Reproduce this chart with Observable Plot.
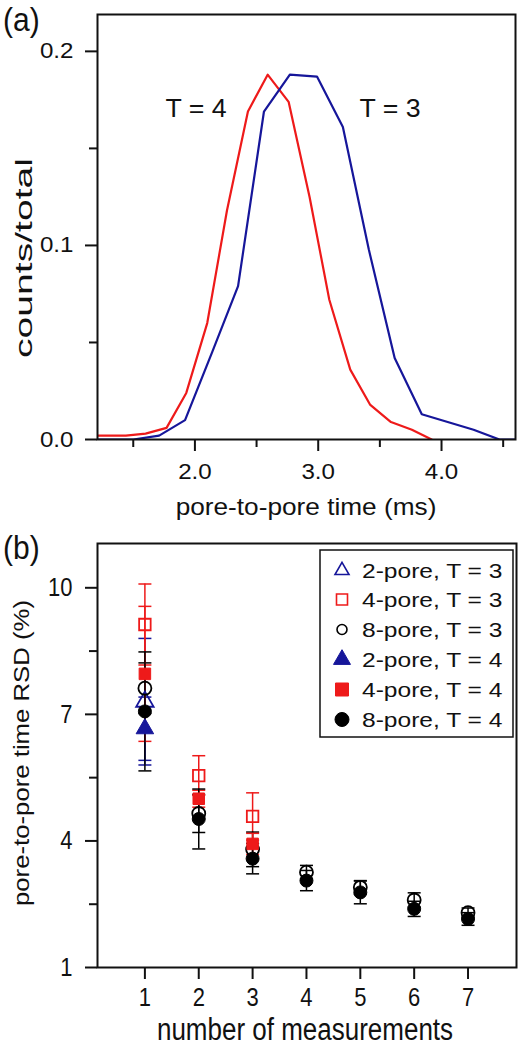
<!DOCTYPE html>
<html>
<head>
<meta charset="utf-8">
<script src="https://cdn.jsdelivr.net/npm/d3@7"></script>
<script src="https://cdn.jsdelivr.net/npm/@observablehq/plot@0.6"></script>
<style>
  body { margin: 0; background: white; }
  #wrap { position: relative; width: 527px; height: 1050px; background: white; overflow: hidden; }
  #wrap svg { position: absolute; left: 0; }
</style>
</head>
<body>
<div id="wrap"></div>
<script>
// ---------- panel (a): histogram curves ----------
const timeT4   = [1.11, 1.27, 1.44, 1.60, 1.77, 1.93, 2.10, 2.26, 2.43, 2.59, 2.76, 2.93, 3.09, 3.26, 3.42, 3.59, 3.76, 3.92];
const countsT4 = [0.002, 0.002, 0.002, 0.003, 0.006, 0.024, 0.060, 0.118, 0.169, 0.188, 0.174, 0.125, 0.072, 0.036, 0.018, 0.009, 0.005, 0.000];
const timeT3   = [1.08, 1.29, 1.50, 1.71, 1.92, 2.14, 2.35, 2.56, 2.77, 2.99, 3.20, 3.41, 3.62, 3.84, 4.05, 4.26, 4.47, 4.68];
const countsT3 = [0.000, 0.000, 0.000, 0.002, 0.010, 0.045, 0.079, 0.169, 0.188, 0.187, 0.161, 0.098, 0.042, 0.013, 0.009, 0.005, 0.000, 0.000];
const xTicksA = [2.0, 3.0, 4.0];
const xMinorA = [1.5, 2.5, 3.5, 4.5];
const yTicksA = [0.0, 0.1, 0.2];
const yMinorA = [0.05, 0.15];

// ---------- panel (b): RSD vs number of measurements ----------
const measurements = [1, 2, 3, 4, 5, 6, 7];
const rsd2poreT3 = [7.30];
const err2poreT3 = [1.50];
const rsd4poreT3 = [9.13, 5.55, 4.58];
const err4poreT3 = [0.96, 0.47, 0.56];
const rsd8poreT3 = [7.62, 4.65, 3.80, 3.26, 2.90, 2.60, 2.30];
const err8poreT3 = [0.60, 0.45, 0.41, 0.16, 0.16, 0.17, 0.11];
const rsd2poreT4 = [6.66];
const err2poreT4 = [0.75];
const rsd4poreT4 = [7.96, 5.00, 3.93];
const err4poreT4 = [1.60, 0.20, 0.25];
const rsd8poreT4 = [7.07, 4.52, 3.58, 3.06, 2.78, 2.39, 2.15];
const err8poreT4 = [1.41, 0.71, 0.36, 0.24, 0.27, 0.18, 0.15];
const seriesLabels = ["2-pore, T = 3", "4-pore, T = 3", "8-pore, T = 3", "2-pore, T = 4", "4-pore, T = 4", "8-pore, T = 4"];
const xTicksB = [1, 2, 3, 4, 5, 6, 7];
const yTicksB = [1, 4, 7, 10];
const yMinorB = [2.5, 5.5, 8.5];

// ---------- styles ----------
const FONT = "'Liberation Sans', Arial, Helvetica, sans-serif";
const RED = "#ee1a1a";
const BLUE = "#16169a";
const BLACK = "#000000";

const seriesValues = [rsd2poreT3, rsd4poreT3, rsd8poreT3, rsd2poreT4, rsd4poreT4, rsd8poreT4];
const seriesErrors = [err2poreT3, err4poreT3, err8poreT3, err2poreT4, err4poreT4, err8poreT4];
const seriesStyle = [
  {symbol: "triangle", filled: false, color: BLUE},
  {symbol: "square",   filled: false, color: RED},
  {symbol: "circle",   filled: false, color: BLACK},
  {symbol: "triangle", filled: true,  color: BLUE},
  {symbol: "square",   filled: true,  color: RED},
  {symbol: "circle",   filled: true,  color: BLACK}
];

function stretchText(svg, sx, sy) {
  svg.querySelectorAll("text").forEach(t => {
    const tr = t.getAttribute("transform") || "";
    t.setAttribute("transform", tr + ` scale(${sx},${sy})`);
  });
}

const wrap = document.getElementById("wrap");

// ---------- top plot ----------
const curveT4 = timeT4.map((t, i) => ({t, c: countsT4[i]}));
const curveT3 = timeT3.map((t, i) => ({t, c: countsT3[i]}));

const plotA = Plot.plot({
  width: 527, height: 530,
  marginLeft: 97, marginRight: 12, marginTop: 14, marginBottom: 91,
  style: {fontFamily: FONT, fontSize: "21px", color: "#111", background: "transparent"},
  x: {domain: [1.21, 4.6]},
  y: {domain: [0, 0.219]},
  marks: [
    Plot.line(curveT4, {x: "t", y: "c", stroke: RED, strokeWidth: 2.2, clip: true}),
    Plot.line(curveT3, {x: "t", y: "c", stroke: BLUE, strokeWidth: 2.2, clip: true}),
    Plot.axisX(xTicksA, {tickSize: 12, tickPadding: 12, tickFormat: d3.format(".1f"), strokeWidth: 2, label: null}),
    Plot.axisX(xMinorA, {tickSize: 8, strokeWidth: 2, fill: "none", label: null}),
    Plot.axisY(yTicksA, {tickSize: 12, tickPadding: 12, tickFormat: d3.format(".1f"), strokeWidth: 2, label: null}),
    Plot.axisY(yMinorA, {tickSize: 8, strokeWidth: 2, fill: "none", label: null}),
    Plot.frame({strokeWidth: 2})
  ]
});
stretchText(plotA, 1.15, 1.05);
plotA.style.top = "0px";
wrap.appendChild(plotA);

// ---------- bottom plot ----------
const capSymbol = {
  draw(ctx, size) {
    const w = Math.sqrt(size / Math.PI);
    ctx.moveTo(-w, 0);
    ctx.lineTo(w, 0);
  }
};

const barMarks = [];
const dotMarks = [];
seriesValues.forEach((vals, s) => {
  const st = seriesStyle[s];
  const rows = vals.map((v, i) => ({n: measurements[i], v, e: seriesErrors[s][i]}));
  barMarks.push(
    Plot.ruleX(rows, {x: "n", y1: d => d.v - d.e, y2: d => d.v + d.e, stroke: st.color, strokeWidth: 1.5}),
    Plot.dot(rows, {x: "n", y: d => d.v - d.e, symbol: capSymbol, r: 6.5, stroke: st.color, fill: "none", strokeWidth: 1.5}),
    Plot.dot(rows, {x: "n", y: d => d.v + d.e, symbol: capSymbol, r: 6.5, stroke: st.color, fill: "none", strokeWidth: 1.5})
  );
  dotMarks.push(
    Plot.dot(rows, {x: "n", y: "v", symbol: st.symbol, r: 6.5,
      fill: st.filled ? st.color : "none", stroke: st.color, strokeWidth: st.filled ? 1 : 1.8})
  );
});

const plotB = Plot.plot({
  width: 527, height: 520,
  marginLeft: 97, marginRight: 11, marginTop: 13, marginBottom: 83,
  style: {fontFamily: FONT, fontSize: "22px", color: "#111", background: "transparent"},
  x: {domain: [0.12, 7.9]},
  y: {domain: [1, 11.05]},
  marks: [
    ...barMarks,
    ...dotMarks,
    Plot.axisX(xTicksB, {tickSize: 12, tickPadding: 8, tickFormat: d3.format("d"), strokeWidth: 2, label: null}),
    Plot.axisY(yTicksB, {tickSize: 12, tickPadding: 13, tickFormat: d3.format("d"), strokeWidth: 2, label: null}),
    Plot.axisY(yMinorB, {tickSize: 8, strokeWidth: 2, fill: "none", label: null}),
    Plot.frame({strokeWidth: 2})
  ]
});
stretchText(plotB, 1.0, 1.2);
plotB.style.top = "530px";
wrap.appendChild(plotB);

// ---------- overlay: panel letters, axis titles, annotations, legend ----------
const overlay = d3.select(wrap).append("svg")
  .attr("width", 527).attr("height", 1050)
  .style("top", "0px")
  .style("pointer-events", "none")
  .attr("font-family", FONT)
  .attr("fill", "#111");

function addText(str, x, y, {size, anchor = "start", sx = 1, sy = 1, rotate = 0}) {
  overlay.append("text")
    .attr("transform", `translate(${x},${y}) rotate(${rotate}) scale(${sx},${sy})`)
    .attr("text-anchor", anchor)
    .attr("font-size", size)
    .text(str);
}

addText("(a)", 3, 31, {size: 30, sy: 1.1});
addText("(b)", 3, 559, {size: 30, sy: 1.1});
addText("T = 4", 196, 117, {size: 25, anchor: "middle", sx: 1.07});
addText("T = 3", 390, 117, {size: 25, anchor: "middle", sx: 1.07});
addText("counts/total", 32, 258, {size: 23, anchor: "middle", sx: 1.7, rotate: -90});
addText("pore-to-pore time (ms)", 306, 515, {size: 23, anchor: "middle", sx: 1.14});
addText("pore-to-pore time RSD (%)", 29, 753, {size: 22, anchor: "middle", sx: 1.17, rotate: -90});
addText("number of measurements", 305, 1040, {size: 26, anchor: "middle", sx: 1.0, sy: 1.2});

// legend
overlay.append("rect")
  .attr("x", 320).attr("y", 550).attr("width", 193).attr("height", 187)
  .attr("fill", "white").attr("stroke", "#111").attr("stroke-width", 1.5);
const legendBaselines = [578, 607, 637, 667, 697, 727];
const legendSizes = [85, 121, 78, 125, 169, 154];
const symType = {triangle: d3.symbolTriangle, square: d3.symbolSquare, circle: d3.symbolCircle};
seriesLabels.forEach((lab, i) => {
  const st = seriesStyle[i];
  const cy = legendBaselines[i] - 7.5;
  overlay.append("path")
    .attr("transform", `translate(342,${cy})`)
    .attr("d", d3.symbol().type(symType[st.symbol]).size(legendSizes[i])())
    .attr("fill", st.filled ? st.color : "none")
    .attr("stroke", st.color)
    .attr("stroke-width", st.filled ? 1 : 1.6);
  addText(lab, 362, legendBaselines[i], {size: 21, sx: 1.17});
});
</script>
</body>
</html>
